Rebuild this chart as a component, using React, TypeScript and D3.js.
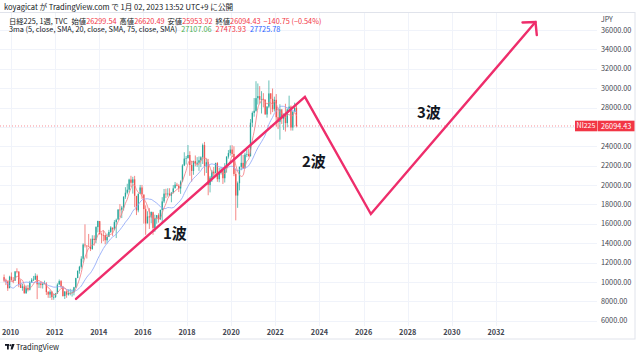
import React from "react";
import * as d3 from "d3";

// ---- data (monthly approximation of Nikkei 225, Sep 2009 – Dec 2022) ----
const startYear = 2009;
const startMonth = 8; // September (0-based)
const firstOpen = 10493;
// closes before the visible range, used only for moving averages (Apr 2008 – Aug 2009)
const preCloses = [13850, 14339, 13481, 13376, 13073, 11260, 8577, 8512, 8860, 7994, 7568, 8110, 8828, 9523, 9958, 10357, 10493];
const closes = [
  10133, 10034, 9345, 10546,
  10198, 10126, 11090, 11057, 9768, 9383, 9537, 8824, 9369, 9202, 9937, 10229,
  10237, 10624, 9755, 9850, 9694, 9816, 9833, 8955, 8700, 8988, 8435, 8455,
  8803, 9723, 10084, 9521, 8543, 9007, 8695, 8840, 8870, 8928, 9446, 10395,
  11139, 11559, 12398, 13861, 13775, 13677, 13668, 13389, 14456, 14328, 15662, 16291,
  14915, 14841, 14828, 14304, 14632, 15162, 15621, 15425, 16174, 16414, 17460, 17451,
  17674, 18798, 19207, 19520, 20563, 20236, 20585, 18890, 17388, 19083, 19747, 19034,
  17518, 16027, 16759, 16666, 17235, 15576, 16569, 16887, 16450, 17425, 18308, 19114,
  19041, 19119, 18909, 19197, 19651, 20033, 19925, 19646, 20356, 22012, 22725, 22765,
  23098, 22068, 21454, 22468, 22202, 22305, 22554, 22865, 24120, 21920, 22351, 20015,
  20773, 21385, 21206, 22259, 20601, 21276, 21522, 20704, 21756, 22927, 23294, 23657,
  23205, 21143, 18917, 20194, 21878, 22288, 21710, 23140, 23185, 22977, 26434, 27444,
  27663, 28966, 29179, 28813, 28860, 28792, 27284, 28090, 29453, 28893, 27822, 28792,
  27002, 26527, 27821, 26848, 27280, 26393, 27802, 28092, 25937, 27587, 27969, 26094,
];
const highs = [
  10767, 10336, 10130, 10639,
  10982, 10500, 11097, 11408, 11126, 10238, 9812, 9694, 9626, 9691, 10115, 10394,
  10620, 10891, 10768, 9930, 10017, 9876, 10137, 9975, 9064, 9152, 9050, 8794,
  8861, 9866, 10255, 10190, 9588, 9057, 9136, 9222, 9288, 9223, 9496, 10433,
  11191, 11662, 12650, 13980, 15942, 13711, 14953, 14466, 14818, 14809, 15749, 16320,
  16164, 15095, 15312, 14863, 14996, 15376, 15759, 15574, 16375, 16533, 17520, 18030,
  17850, 18832, 19778, 20133, 20655, 20953, 20850, 20947, 18770, 19160, 20012, 20012,
  18951, 17905, 17292, 17613, 17251, 17099, 16938, 16911, 17081, 17473, 18747, 19592,
  19615, 19668, 19668, 19289, 19999, 20318, 20225, 20080, 20481, 22147, 23382, 23000,
  24129, 23486, 22502, 22520, 23050, 22880, 22949, 22970, 24286, 24448, 22698, 22698,
  20941, 21556, 21860, 22307, 22362, 21759, 21823, 21540, 22255, 22974, 23608, 24091,
  24115, 23995, 21719, 20365, 21916, 23185, 23111, 23338, 23622, 23725, 26805, 27602,
  28979, 30714, 30485, 30208, 29685, 29480, 28852, 28150, 30796, 29489, 29960, 29121,
  29388, 27880, 28338, 27580, 27402, 28389, 27914, 29222, 28209, 27587, 28502, 28234,
];
const lows = [
  9979, 9674, 9076, 9678,
  10119, 9867, 10136, 10887, 9459, 9379, 9091, 8807, 8796, 9027, 9123, 9934,
  10095, 10212, 8227, 9370, 9351, 9318, 9795, 8656, 8359, 8343, 8135, 8160,
  8349, 8789, 9749, 9382, 8494, 8238, 8365, 8589, 8619, 8488, 8619, 9381,
  10398, 10853, 11363, 12003, 13555, 12415, 13668, 13188, 13332, 13748, 14003, 15112,
  14914, 13995, 14203, 13885, 13964, 14754, 15040, 14753, 15333, 14529, 16521, 16672,
  16592, 17366, 18576, 19034, 19258, 19810, 19115, 17714, 16901, 17185, 19433, 18565,
  16017, 14865, 16166, 15471, 16046, 14864, 15164, 16002, 16119, 16420, 16111, 18137,
  18650, 18805, 18909, 18224, 19122, 19722, 19868, 19280, 19094, 20400, 21972, 22117,
  22764, 20950, 20347, 21056, 21931, 21871, 21462, 21851, 22172, 20971, 21243, 18949,
  19241, 20315, 20911, 21510, 20332, 20289, 21086, 20110, 20261, 21276, 22726, 23044,
  22892, 20916, 16358, 17646, 19448, 21529, 21710, 21894, 22878, 22948, 22948, 26004,
  27055, 27572, 28308, 28419, 27385, 28012, 27272, 26954, 27945, 27293, 27524, 27588,
  26045, 25775, 24681, 26304, 25688, 25520, 25966, 27662, 25622, 25621, 27609, 25954,
];

const yearTicks = [2010, 2012, 2014, 2016, 2018, 2020, 2022, 2024, 2026, 2028, 2030, 2032];
const priceTicks = [6000, 8000, 10000, 12000, 14000, 16000, 18000, 20000, 22000, 24000, 26000, 28000, 30000, 32000, 34000, 36000];
const lastPrice = 26094.43;

const waveYears = [2012.97, 2023.34, 2026.33, 2033.79];
const waveValues = [8250, 29090, 17010, 36820];
const waveLabels = ["1波", "2波", "3波"];
const waveLabelYears = [2016.91, 2023.21, 2028.42];
const waveLabelValues = [14480, 21860, 26970];

const maSlowWindow = 17; // ≈ 75 weeks
const maMidWindow = 5; // ≈ 20 weeks

// ---- layout ----
const W = 640;
const H = 355;
const plotL = 0;
const plotR = 597;
const plotT = 13;
const plotB = 326;
const FONT = "'Noto Sans CJK JP', 'Noto Sans', Roboto, sans-serif";
const UP = "#26a69a";
const DOWN = "#ef5350";
const WAVE = "#ee2d6b";

function sma(arr: number[], n: number): (number | null)[] {
  return arr.map((_, i) => (i < n - 1 ? null : d3.mean(arr.slice(i - n + 1, i + 1)) as number));
}

export default function App() {
  const x = d3.scaleLinear().domain([2010, 2032]).range([10.5, 496]);
  const y = d3.scaleLinear().domain([6000, 36000]).range([320.7, 30]);

  const dateOf = (i: number) => startYear + (startMonth + i) / 12 + 1 / 24;
  const opens = closes.map((_, i) => (i === 0 ? firstOpen : closes[i - 1]));

  const all = [...preCloses, ...closes];
  const off = preCloses.length;
  const mid = sma(all, maMidWindow).slice(off);
  const slow = sma(all, maSlowWindow).slice(off);
  const line = d3
    .line<number | null>()
    .defined((d) => d !== null)
    .x((_, i) => x(dateOf(i)))
    .y((d) => y(d as number))
    .curve(d3.curveMonotoneX);

  const wavePts = waveYears.map((yr, i) => [x(yr), y(waveValues[i])] as [number, number]);
  const wavePath = d3.line()(wavePts) as string;
  const tip = wavePts[wavePts.length - 1];

  const yLast = y(lastPrice);
  const bw = 1.3;

  return (
    <svg width={W} height={H} style={{ position: "absolute", left: 0, top: 0, background: "#fff" }} fontFamily={FONT}>
      <defs>
        <clipPath id="plot">
          <rect x={plotL} y={plotT} width={plotR - plotL} height={plotB - plotT} />
        </clipPath>
      </defs>
      <rect x={0} y={0} width={W} height={H} fill="#fff" />
      {/* header */}
      <text x={4} y={9.5} fontSize={7.6} fill="#131722">
        koyagicat が TradingView.com で 1月 02, 2023 13:52 UTC+9 に公開
      </text>
      {/* chart box */}
      <rect x={-1} y={12.5} width={636} height={326.5} fill="none" stroke="#e0e3eb" strokeWidth={1} />

      {/* grid */}
      <g stroke="#f0f3fa" strokeWidth={1}>
        {priceTicks.map((p) => (
          <line key={p} x1={plotL} x2={plotR} y1={Math.round(y(p)) + 0.5} y2={Math.round(y(p)) + 0.5} />
        ))}
        {yearTicks.map((t) => (
          <line key={t} x1={Math.round(x(t)) + 0.5} x2={Math.round(x(t)) + 0.5} y1={plotT} y2={plotB} />
        ))}
      </g>

      {/* last price dotted line */}
      <line x1={plotL} x2={plotR} y1={yLast} y2={yLast} stroke="#f23645" strokeOpacity={0.55} strokeWidth={1} strokeDasharray="1 2" />

      <g clipPath="url(#plot)">
        {/* candles */}
        {closes.map((c, i) => {
          const o = opens[i];
          const cx = x(dateOf(i));
          const col = c >= o ? UP : DOWN;
          const top = y(Math.max(o, c));
          const bot = y(Math.min(o, c));
          return (
            <g key={i}>
              <line x1={cx} x2={cx} y1={y(highs[i])} y2={y(lows[i])} stroke={col} strokeWidth={0.7} />
              <rect x={cx - bw / 2} y={top} width={bw} height={Math.max(0.6, bot - top)} fill={col} />
            </g>
          );
        })}
        {/* moving averages */}
        <path d={line(slow) as string} fill="none" stroke="#8fa8f8" strokeWidth={1} strokeOpacity={0.85} />
        <path d={line(mid) as string} fill="none" stroke="#f57f86" strokeWidth={1} strokeOpacity={0.85} />

        {/* wave lines */}
        <path d={wavePath} fill="none" stroke={WAVE} strokeWidth={2.4} strokeLinejoin="miter" strokeLinecap="round" />
        <path
          d={`M${tip[0] - 13},${tip[1] + 0.5}L${tip[0]},${tip[1]}L${tip[0] + 1.3},${tip[1] + 13}`}
          fill="none"
          stroke={WAVE}
          strokeWidth={2.4}
          strokeLinecap="round"
          strokeLinejoin="miter"
        />
        {waveLabels.map((t, i) => (
          <text key={t} x={x(waveLabelYears[i])} y={y(waveLabelValues[i])} fontSize={15} fontWeight={700} fill="#131722">
            {t}
          </text>
        ))}
      </g>

      {/* legend */}
      <text x={9} y={23.5} fontSize={7.3} fill="#131722">
        <tspan>日経225, 1週, TVC</tspan>
        <tspan dx={4}>始値</tspan>
        <tspan fill="#f23645">26299.54</tspan>
        <tspan dx={3}>高値</tspan>
        <tspan fill="#f23645">26620.49</tspan>
        <tspan dx={3}>安値</tspan>
        <tspan fill="#f23645">25953.92</tspan>
        <tspan dx={3}>終値</tspan>
        <tspan fill="#f23645">26094.43</tspan>
        <tspan dx={3} fill="#f23645">−140.75 (−0.54%)</tspan>
      </text>
      <text x={9} y={32} fontSize={7.3} fill="#131722">
        <tspan>3ma (5, close, SMA, 20, close, SMA, 75, close, SMA)</tspan>
        <tspan dx={4} fill="#4caf50">27107.06</tspan>
        <tspan dx={4} fill="#f23645">27473.93</tspan>
        <tspan dx={4} fill="#2962ff">27725.78</tspan>
      </text>

      {/* price axis */}
      <text x={601} y={21.5} fontSize={7} fill="#434651">JPY</text>
      {priceTicks
        .filter((p) => Math.abs(y(p) - yLast) > 8)
        .map((p) => (
          <text key={p} x={601} y={y(p) + 2.6} fontSize={7.3} fill="#434651">
            {p.toFixed(2)}
          </text>
        ))}
      <rect x={575} y={yLast - 5.3} width={22} height={10.6} fill="#f23645" />
      <rect x={597.5} y={yLast - 5.3} width={37} height={10.6} fill="#f23645" />
      <text x={586} y={yLast + 2.5} fontSize={7} fill="#fff" textAnchor="middle">NI225</text>
      <text x={601} y={yLast + 2.6} fontSize={7.3} fill="#fff">{lastPrice.toFixed(2)}</text>

      {/* time axis */}
      {yearTicks.map((t) => (
        <text key={t} x={x(t)} y={335} fontSize={7.3} fontWeight={700} fill="#434651" textAnchor="middle">
          {t}
        </text>
      ))}

      {/* logo */}
      <g transform="translate(5,344)" fill="#131722">
        <rect x={0} y={0} width={4} height={1.8} />
        <rect x={2} y={0} width={1.8} height={5.5} />
        <circle cx={5.4} cy={1.2} r={1} />
        <path d="M6.8,0 L9.6,0 L7.6,5.5 L5.6,5.5 Z" />
      </g>
      <text x={16} y={349.5} fontSize={7.5} fill="#131722">TradingView</text>
    </svg>
  );
}
